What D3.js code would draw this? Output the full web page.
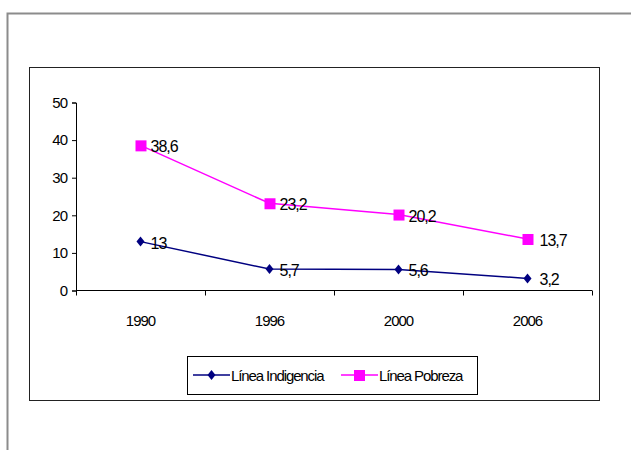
<!DOCTYPE html>
<html>
<head>
<meta charset="utf-8">
<script src="https://cdnjs.cloudflare.com/ajax/libs/d3/7.8.5/d3.min.js"></script>
<style>
  body { margin:0; background:#fff; }
  text { font-family: "Liberation Sans", Arial, sans-serif; letter-spacing:-1px; }
</style>
</head>
<body>
<div id="chart"></div>
<script>
var years = ["1990", "1996", "2000", "2006"];
var indigencia = [13, 5.7, 5.6, 3.2];
var pobreza = [38.6, 23.2, 20.2, 13.7];
var yTicks = [0, 10, 20, 30, 40, 50];
var seriesNames = ["Línea Indigencia", "Línea Pobreza"];
var seriesColors = ["#000080", "#ff00ff"];

var board = d3.select("#chart").append("svg")
      .attr("width", 631)
      .attr("height", 450);

// outer frame
board.append("path")
      .attr("d", "M7.5,450 V13.5 H631")
      .attr("fill", "none")
      .attr("stroke", "#8c8c8c")
      .attr("stroke-width", 2);

// chart box
board.append("rect")
      .attr("x", 29.5).attr("y", 67.5)
      .attr("width", 570).attr("height", 333)
      .attr("fill", "white")
      .attr("stroke", "#222")
      .attr("stroke-width", 1);

var x = d3.scaleBand().domain(years).range([76, 592]);
var y = d3.scaleLinear().domain([0, 50]).range([290.5, 102.5]);

// y axis
var yAxis = board.append("g")
      .attr("transform", "translate(76,0)")
      .call(d3.axisLeft(y).tickValues(yTicks).tickSize(4).tickPadding(5));
yAxis.select(".domain").attr("stroke", "#000");
yAxis.selectAll("text")
      .style("font-size", "15px")
      .style("font-family", "Liberation Sans, Arial, sans-serif")
      .attr("fill", "#000");

// x axis
var xAxis = board.append("g")
      .attr("transform", "translate(0,290.5)");
xAxis.append("line")
      .attr("x1", 76).attr("x2", 592)
      .attr("stroke", "#000");
var edges = years.map(function(d){ return x(d); }).concat([592]);
xAxis.selectAll("line.tk").data(edges).enter().append("line")
      .attr("class", "tk")
      .attr("x1", function(d){ return Math.round(d) + 0.5; })
      .attr("x2", function(d){ return Math.round(d) + 0.5; })
      .attr("y1", 0).attr("y2", 5)
      .attr("stroke", "#000");
xAxis.selectAll("text").data(years).enter().append("text")
      .attr("x", function(d){ return x(d) + x.bandwidth()/2; })
      .attr("y", 35)
      .attr("text-anchor", "middle")
      .style("font-size", "15px")
      .text(function(d){ return d; });

function cx(i){ return x(years[i]) + x.bandwidth()/2; }

var line = d3.line()
      .x(function(d, i){ return cx(i); })
      .y(function(d){ return y(d); });

var all = [indigencia, pobreza];
all.forEach(function(vals, s)
{
    board.append("path")
          .datum(vals)
          .attr("d", line)
          .attr("fill", "none")
          .attr("stroke", seriesColors[s])
          .attr("stroke-width", 1.5);
});

// markers
board.selectAll("path.dia").data(indigencia).enter().append("path")
      .attr("class", "dia")
      .attr("d", "M0,-5 L4,0 L0,5 L-4,0 Z")
      .attr("transform", function(d, i){ return "translate(" + cx(i) + "," + y(d) + ")"; })
      .attr("fill", seriesColors[0]);
board.selectAll("rect.sq").data(pobreza).enter().append("rect")
      .attr("class", "sq")
      .attr("x", function(d, i){ return cx(i) - 5; })
      .attr("y", function(d){ return y(d) - 5; })
      .attr("width", 11).attr("height", 11)
      .attr("fill", seriesColors[1]);

// value labels
function fmt(v){ return String(v).replace(".", ","); }
all.forEach(function(vals, s)
{
    board.selectAll("text.lab" + s).data(vals).enter().append("text")
          .attr("class", "lab" + s)
          .attr("x", function(d, i){ return cx(i) + (i == 3 ? 12 : 10); })
          .attr("y", function(d){ return y(d) + 7; })
          .style("font-size", "16px")
          .attr("fill", "#000")
          .text(fmt);
});

// legend
var leg = board.append("g");
leg.append("rect")
      .attr("x", 187.5).attr("y", 356.5)
      .attr("width", 290).attr("height", 38)
      .attr("fill", "white")
      .attr("stroke", "#000");
var legX = [193, 341];
seriesNames.forEach(function(name, s)
{
    var g = leg.append("g").attr("transform", "translate(" + legX[s] + ",375)");
    g.append("line").attr("x1", 0).attr("x2", 37)
          .attr("stroke", seriesColors[s]).attr("stroke-width", 1.5);
    if(s == 0)
      g.append("path").attr("d", "M18.5,-5 L22.5,0 L18.5,5 L14.5,0 Z").attr("fill", seriesColors[s]);
    else
      g.append("rect").attr("x", 13).attr("y", -5).attr("width", 11).attr("height", 11).attr("fill", seriesColors[s]);
    g.append("text").attr("x", 38).attr("y", 6)
          .style("font-size", "15px")
          .style("letter-spacing", "-1.1px")
          .text(name);
});
</script>
</body>
</html>
